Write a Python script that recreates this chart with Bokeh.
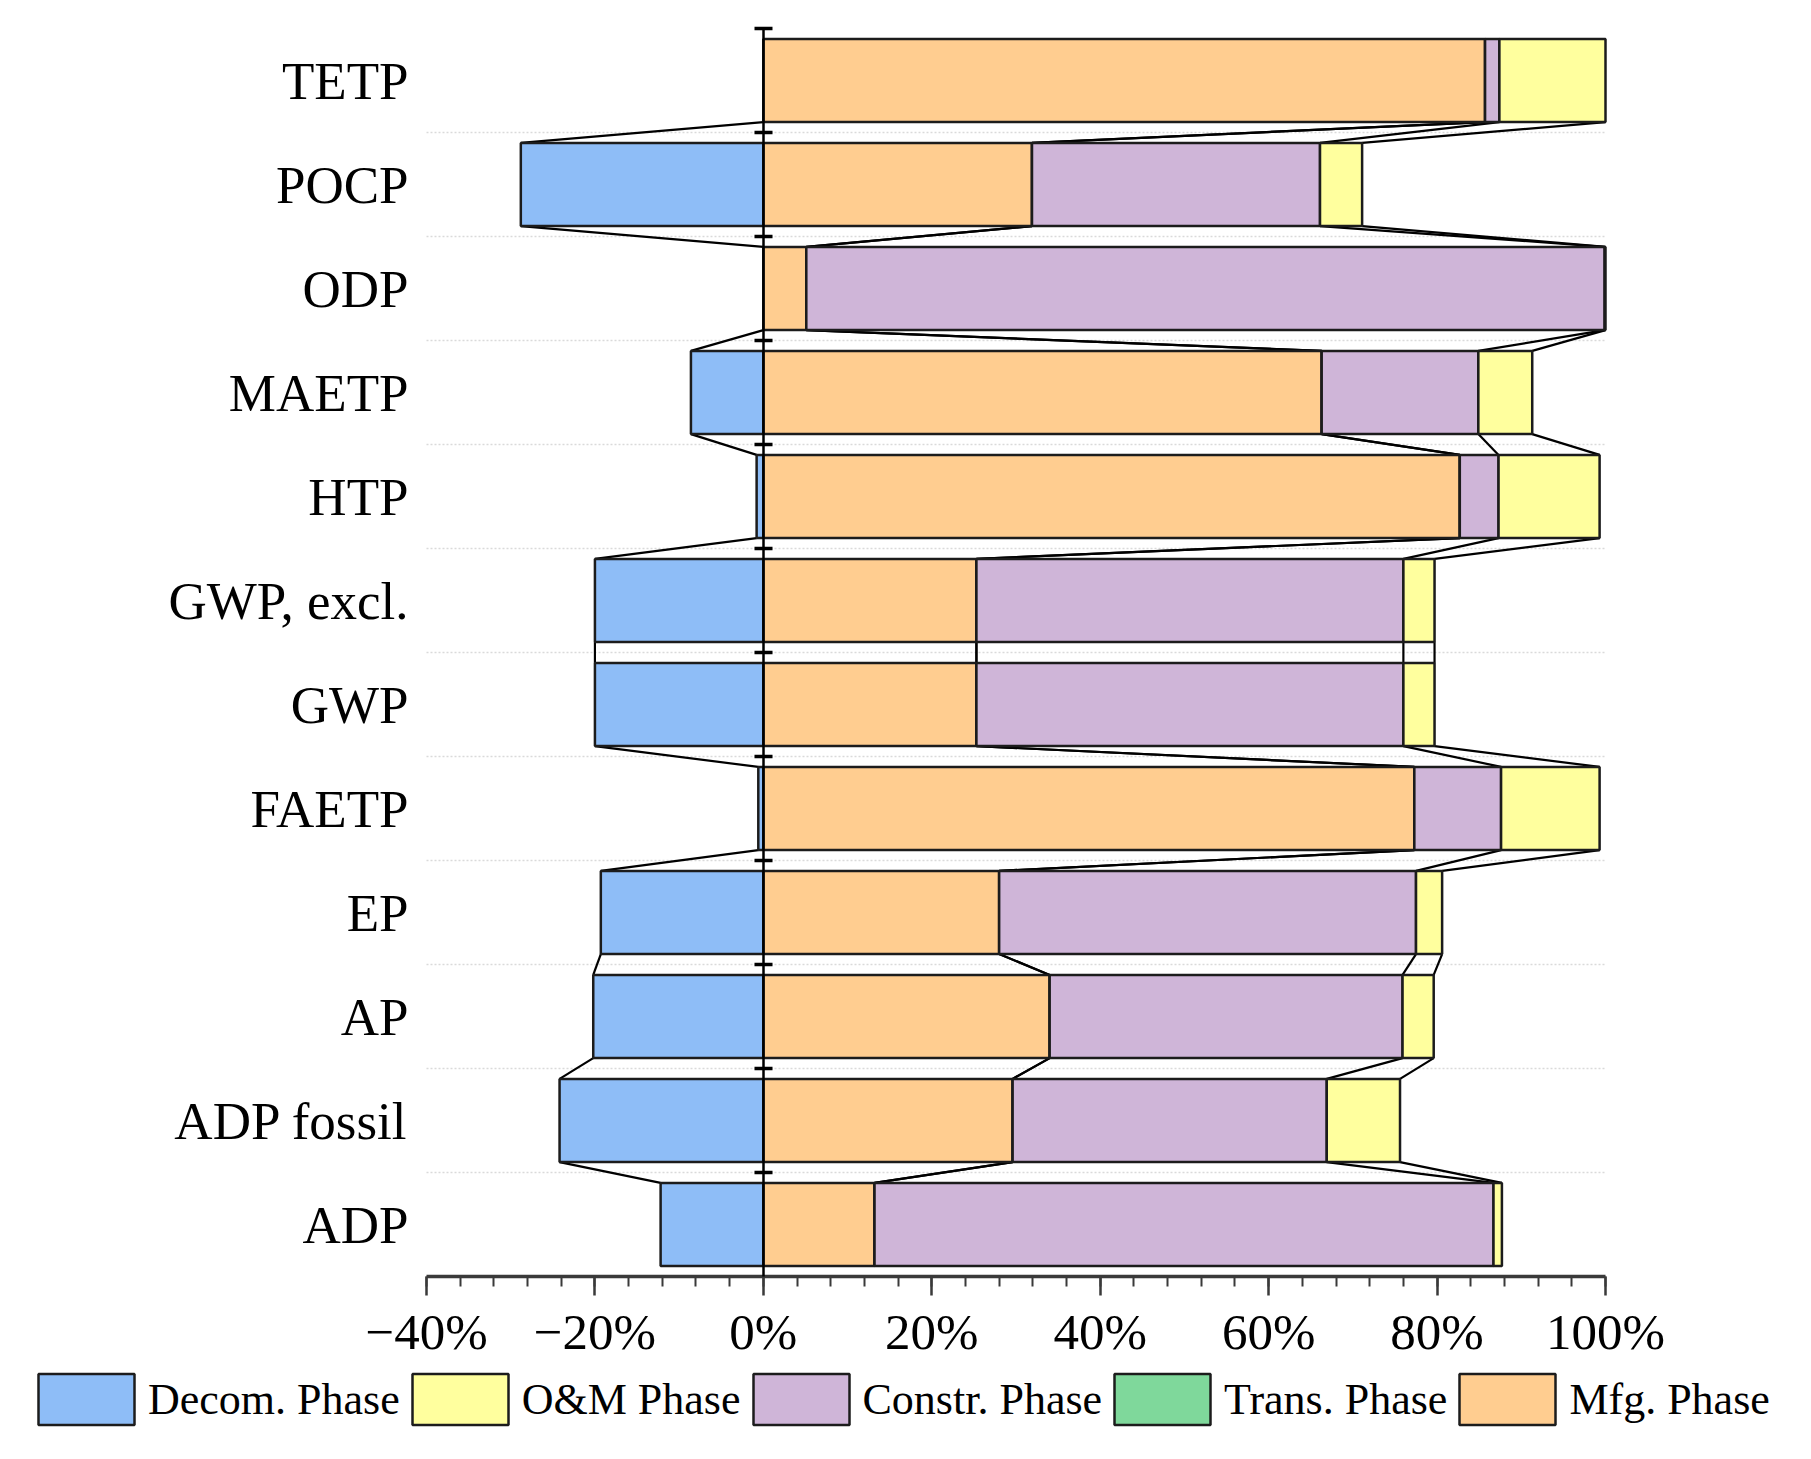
import numpy as np
from bokeh.plotting import figure
from bokeh.models import (FixedTicker, Legend, LegendItem, Range1d, LinearAxis, Grid)
from bokeh.embed import file_html
from bokeh.resources import INLINE

# ---------------- data (percent) ----------------
categories = ["TETP", "POCP", "ODP", "MAETP", "HTP", "GWP, excl.", "GWP",
              "FAETP", "EP", "AP", "ADP fossil", "ADP"]
decom  = [0.0, -28.8, 0.0, -8.6, -0.8, -20.0, -20.0, -0.6, -19.3, -20.2, -24.2, -12.2]
mfg    = [85.7, 31.9, 5.1, 66.3, 82.7, 25.3, 25.3, 77.3, 28.0, 34.0, 29.6, 13.2]
trans  = [0.0, 0.0, 0.0, 0.0, 0.0, 0.0, 0.0, 0.0, 0.0, 0.0, 0.0, 0.0]
constr = [1.7, 34.2, 94.8, 18.6, 4.6, 50.7, 50.7, 10.3, 49.5, 41.9, 37.3, 73.5]
om     = [12.6, 5.0, 0.1, 6.4, 12.0, 3.7, 3.7, 11.7, 3.1, 3.7, 8.7, 1.0]

x_ticks = [-40, -20, 0, 20, 40, 60, 80, 100]
x_tick_labels = ["\u221240%", "\u221220%", "0%", "20%", "40%", "60%", "80%", "100%"]
legend_labels = ["Decom. Phase", "O&M Phase", "Constr. Phase", "Trans. Phase", "Mfg. Phase"]

C_DECOM, C_OM, C_CONSTR, C_TRANS, C_MFG = "#8EBDF7", "#FFFF9E", "#CFB5D8", "#7FD89B", "#FFCD90"
EDGE = "#1c1c1c"
FONT = "Liberation Serif"

n = len(categories)
ypos = np.arange(n)
d = np.array(decom)
m = np.array(mfg)
c1 = m
c2 = c1 + np.array(trans)
c3 = c2 + np.array(constr)
c4 = c3 + np.array(om)

# ---------------- canvas geometry (pixels) ----------------
W, H = 1795, 1445
XMIN, XMAX = x_ticks[0], x_ticks[-1]
FL, FR = 426, 1605          # where XMIN / XMAX sit on the canvas
FT, FB = 28, 1276           # where the first / last category boundary sit
ppx = (FR - FL) / (XMAX - XMIN)
ppy = (FB - FT) / n
x_start = XMIN - FL / ppx
x_end = XMAX + (W - FR) / ppx
y_top = -0.5 - FT / ppy
y_bot = (n - 0.5) + (H - FB) / ppy

p = figure(width=W, height=H,
           x_range=Range1d(x_start, x_end), y_range=Range1d(y_bot, y_top),
           output_backend="svg", toolbar_location=None,
           x_axis_location=None, y_axis_location=None,
           min_border=0, min_border_left=0, min_border_right=0,
           min_border_top=0, min_border_bottom=0)
p.outline_line_color = None
p.background_fill_color = "white"
p.border_fill_color = "white"
p.xgrid.visible = False
p.ygrid.visible = False

# grid at category boundaries (only across the plotted x span)
grid = Grid(dimension=1, ticker=FixedTicker(ticks=list(np.arange(n - 1) + 0.5)),
            cross_bounds=(XMIN, XMAX), grid_line_color="#dadada",
            grid_line_dash="2 2", grid_line_width=1.5)
p.add_layout(grid)

# connecting lines between adjacent bars
bh = 0.8
for b in [d, c1, c2, c3, c4]:
    p.segment(x0=b[:-1], y0=ypos[:-1] + bh / 2, x1=b[1:], y1=ypos[1:] - bh / 2,
              line_color="black", line_width=2.2)

kw = dict(height=bh, line_color=EDGE, line_width=2.5)
r_decom = p.hbar(y=ypos, left=d, right=0, fill_color=C_DECOM, **kw)
r_mfg = p.hbar(y=ypos, left=0, right=c1, fill_color=C_MFG, **kw)
r_trans = p.hbar(y=ypos, left=c1, right=c2, fill_color=C_TRANS, **kw)
r_constr = p.hbar(y=ypos, left=c2, right=c3, fill_color=C_CONSTR, **kw)
r_om = p.hbar(y=ypos, left=c3, right=c4, fill_color=C_OM, **kw)

# x axis (bottom)
xa = LinearAxis(fixed_location=n - 0.5, bounds=(XMIN, XMAX))
xa.ticker = FixedTicker(ticks=x_ticks, minor_ticks=list(range(XMIN, XMAX + 1, 4)))
xa.major_label_overrides = {t: l for t, l in zip(x_ticks, x_tick_labels)}
xa.axis_line_width = 3.5
xa.axis_line_color = "#3a3a3a"
xa.major_tick_line_width = 2.5
xa.major_tick_line_color = "#3a3a3a"
xa.minor_tick_line_width = 2
xa.minor_tick_line_color = "#3a3a3a"
xa.major_tick_out = 19
xa.major_tick_in = 0
xa.minor_tick_out = 10
xa.minor_tick_in = 0
xa.major_label_standoff = 8
xa.major_label_text_font = FONT
xa.major_label_text_font_size = "51px"
xa.major_label_text_color = "black"
p.add_layout(xa, "below")

# category labels (left)
ya = LinearAxis(fixed_location=XMIN, bounds=(-0.5, n - 0.5))
ya.ticker = FixedTicker(ticks=list(ypos))
ya.major_label_overrides = {int(i): c for i, c in zip(ypos, categories)}
ya.axis_line_color = None
ya.major_tick_line_color = None
ya.minor_tick_line_color = None
ya.major_label_standoff = 12
ya.major_label_text_font = FONT
ya.major_label_text_font_size = "53px"
ya.major_label_text_color = "black"
p.add_layout(ya, "left")

# vertical axis through 0 with ticks at category boundaries
za_ticks = list(np.arange(n) - 0.5)
za = LinearAxis(fixed_location=0, bounds=(-0.5, n - 0.5))
za.ticker = FixedTicker(ticks=za_ticks, minor_ticks=[])
za.major_label_overrides = {float(t): "" for t in za_ticks}
za.axis_line_color = "black"
za.axis_line_width = 2.5
za.major_tick_line_color = "black"
za.major_tick_line_width = 3.5
za.major_tick_in = 9
za.major_tick_out = 9
za.minor_tick_line_color = None
p.add_layout(za, "left")

# legend
items = [LegendItem(label=lbl, renderers=[r]) for lbl, r in
         zip(legend_labels, [r_decom, r_om, r_constr, r_trans, r_mfg])]
legend = Legend(items=items, orientation="horizontal", location=(26, 14),
                glyph_width=120, glyph_height=64, label_standoff=2, spacing=0,
                padding=0, margin=0, border_line_color=None, background_fill_alpha=0,
                label_text_font=FONT, label_text_font_size="44px", label_text_color="black")
p.add_layout(legend, "center")

open("out.html", "w").write(file_html(p, INLINE))
